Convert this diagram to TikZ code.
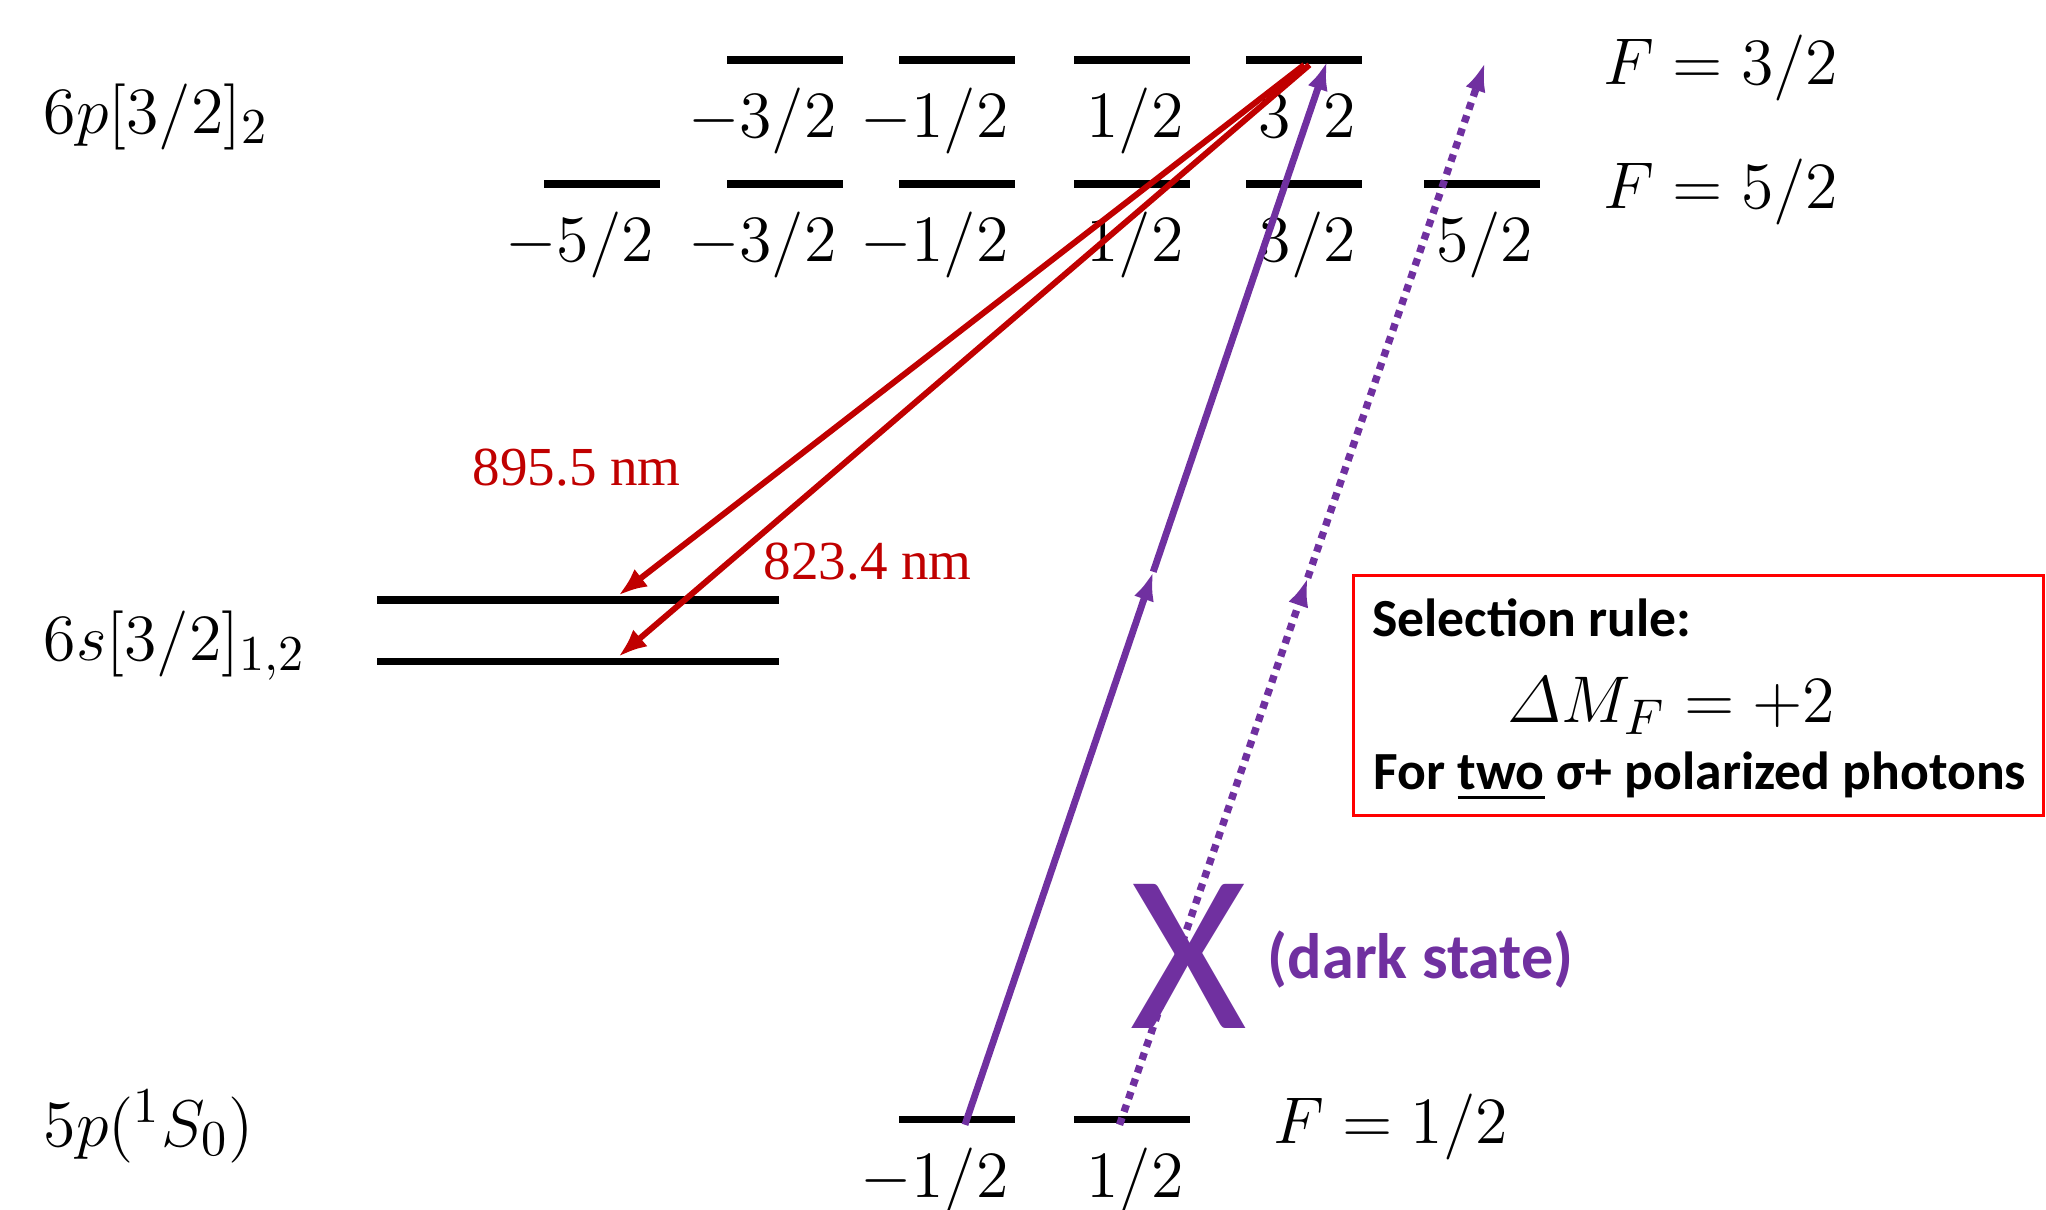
\documentclass[tikz,border=0pt]{standalone}
\usepackage{amsmath}
\usepackage{fontspec}
\usepackage{tikz}
\usetikzlibrary{arrows.meta,calc}
\newfontfamily\carlito{Carlito}
\newfontfamily\timesfont{Liberation Serif}
\definecolor{lvred}{HTML}{C00000}
\definecolor{lvpurple}{HTML}{7030A0}
\definecolor{boxred}{HTML}{FF0000}
\tikzset{
  lvl/.style={fill=black,inner sep=0pt,minimum width=8.9mm,minimum height=1.7pt},
  sline/.style={lvl,minimum width=30.8mm},
  mlbl/.style={anchor=north east,inner sep=0pt,xshift=-0.5mm,yshift=-1.7mm,font=\fontsize{14.5}{17}\selectfont},
  term/.style={anchor=west,inner sep=0pt,font=\fontsize{15}{18}\selectfont},
  flbl/.style={anchor=west,inner sep=0pt,font=\fontsize{14.5}{17}\selectfont},
  wl/.style={anchor=base,inner sep=0pt,text=lvred,font=\timesfont\fontsize{12}{14}\selectfont},
  decay/.style={-{Latex[length=2.2mm,width=1.7mm]},draw=lvred,line width=1.3pt},
  pump/.style={-{Latex[length=2.2mm,width=1.6mm]},draw=lvpurple,line width=1.5pt},
  darkpump/.style={pump,line width=1.6pt,dash pattern=on 1.6pt off 1.4pt},
  rulebox/.style={draw=boxred,line width=0.7pt,minimum width=52.9mm,minimum height=18.4mm,inner sep=0pt},
  ruletxt/.style={anchor=base west,inner sep=0pt,font=\carlito\bfseries\fontsize{11.7}{14}\selectfont},
}
\begin{document}
\begin{tikzpicture}
  \useasboundingbox (0,0) rectangle (15.68,-9.27);
  % term labels
  \node[term] (t6p) at (0.33,-0.90) {$6p[3/2]_2$};
  \node[term] (t6s) at (0.33,-4.95) {$6s[3/2]_{1,2}$};
  \node[term] (t5p) at (0.33,-8.63) {$5p({}^1S_0)$};
  % 6p F=3/2
  \node[lvl,label={[mlbl]south east:$-3/2$}] (u3m3) at (6.015,-0.46) {};
  \node[lvl,label={[mlbl]south east:$-1/2$}] (u3m1) at (7.335,-0.46) {};
  \node[lvl,label={[mlbl]south east:$1/2$}] (u3p1) at (8.675,-0.46) {};
  \node[lvl,label={[mlbl]south east:$3/2$}] (u3p3) at (9.995,-0.46) {};
  \node[flbl] (f32) at (12.28,-0.52) {$F=3/2$};
  % 6p F=5/2
  \node[lvl,label={[mlbl]south east:$-5/2$}] (u5m5) at (4.615,-1.41) {};
  \node[lvl,label={[mlbl]south east:$-3/2$}] (u5m3) at (6.015,-1.41) {};
  \node[lvl,label={[mlbl]south east:$-1/2$}] (u5m1) at (7.335,-1.41) {};
  \node[lvl,label={[mlbl]south east:$1/2$}] (u5p1) at (8.675,-1.41) {};
  \node[lvl,label={[mlbl]south east:$3/2$}] (u5p3) at (9.995,-1.41) {};
  \node[lvl,label={[mlbl]south east:$5/2$}] (u5p5) at (11.355,-1.41) {};
  \node[flbl] (f52) at (12.28,-1.47) {$F=5/2$};
  % 6s
  \node[sline] (s1) at (4.43,-4.60) {}; \node[sline] (s2) at (4.43,-5.07) {};
  % ground
  \node[lvl,label={[mlbl]south east:$-1/2$}] (gm1) at (7.335,-8.58) {};
  \node[lvl,label={[mlbl]south east:$1/2$}] (gp1) at (8.675,-8.58) {};
  \node[flbl] (f12) at (9.75,-8.64) {$F=1/2$};
  % decay
  \draw[decay] (u3p3.south) -- ($(s1.north west)!.6!(s1.north east)$);
  \draw[decay] ([xshift=.4mm]u3p3.south) -- ($(s2.north west)!.6!(s2.north east)$);
  \node[wl] (w895) at (4.42,-3.72) {895.5 nm};
  \node[wl] (w823) at (6.65,-4.44) {823.4 nm};
  % two-photon pump
  \coordinate (p1s) at ($(gm1.center)+(.06,-.04)$);
  \coordinate (p1e) at ($(u3p3.center)+(.175,-.01)$);
  \coordinate (p1m) at ($(p1s)!.52!(p1e)$);
  \draw[pump] (p1s) -- (p1m); \draw[pump] (p1m) -- (p1e);
  \coordinate (p2s) at ($(gp1.center)+(-.095,-.04)$);
  \coordinate (p2e) at (11.38,-0.48);
  \coordinate (p2m) at ($(p2s)!.515!(p2e)$);
  \draw[darkpump] (p2s) -- (p2m); \draw[darkpump] (p2m) -- (p2e);
  \node[anchor=base,inner sep=0pt,text=lvpurple,font=\carlito\fontsize{49}{51}\selectfont] (cross) at (9.11,-7.88) {X};
  \node[ruletxt,text=lvpurple,font=\carlito\bfseries\fontsize{14}{16}\selectfont] (dark) at (9.71,-7.50) {(dark state)};
  % selection rule
  \node[rulebox] (rule) at (13.015,-5.33) {};
  \node[ruletxt] (rhead) at (10.51,-4.88) {Selection rule:};
  \node[anchor=base,inner sep=0pt,font=\fontsize{15}{18}\selectfont] (rmath) at (12.81,-5.54) {$\varDelta M_F=+2$};
  \node[ruletxt] (rfoot) at (10.52,-6.05) {For \underline{two} σ+ polarized photons};
\end{tikzpicture}
\end{document}
